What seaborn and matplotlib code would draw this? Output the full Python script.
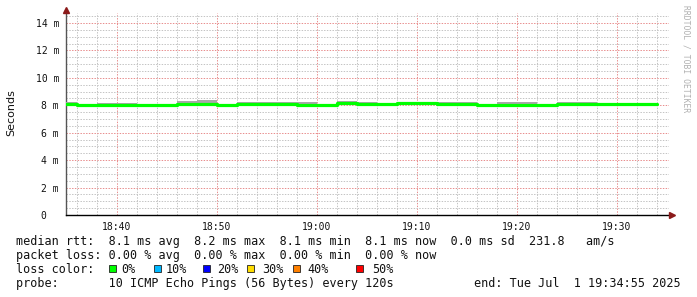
import numpy as np
import pandas as pd
import matplotlib
matplotlib.use("Agg")
import matplotlib.pyplot as plt
import seaborn as sns
from matplotlib.ticker import FixedLocator
from matplotlib.lines import Line2D
from matplotlib.patches import Rectangle

# ---------------- data ----------------
# step start times in minutes after 18:00 (first segment is partial, last ends at 94)
step_start = [34.917, 36, 38, 40, 42, 44, 46, 48, 50, 52, 54, 56, 58, 60, 62,
              64, 66, 68, 70, 72, 74, 76, 78, 80, 82, 84, 86, 88, 90, 92]
step_end = 94
median_ms = [8.08, 8.02, 8.04, 8.04, 8.02, 8.02, 8.08, 8.08, 8.04, 8.06,
             8.06, 8.06, 8.05, 8.03, 8.20, 8.08, 8.06, 8.17, 8.17, 8.07,
             8.07, 8.02, 8.03, 8.03, 8.04, 8.08, 8.08, 8.09, 8.07, 8.07]
smoke_hi_ms = [8.23, 8.04, 8.17, 8.17, 8.04, 8.04, 8.30, 8.37, 8.06, 8.23,
               8.23, 8.23, 8.23, 8.05, 8.28, 8.23, 8.08, 8.20, 8.20, 8.23,
               8.23, 8.04, 8.23, 8.23, 8.06, 8.23, 8.23, 8.11, 8.09, 8.09]
smoke_lo_ms = [8.02, 7.99, 8.00, 8.00, 7.99, 7.99, 8.03, 8.03, 8.00, 8.02,
               8.02, 8.02, 8.01, 7.99, 8.14, 8.03, 8.01, 8.12, 8.12, 8.02,
               8.02, 7.92, 7.95, 7.95, 8.00, 8.03, 8.03, 8.05, 8.03, 8.03]
xtick_pos = [40, 50, 60, 70, 80, 90]
xtick_labels = ["18:40", "18:50", "19:00", "19:10", "19:20", "19:30"]
ytick_pos = [0, 2, 4, 6, 8, 10, 12, 14]
ytick_labels = ["0  ", "2 m", "4 m", "6 m", "8 m", "10 m", "12 m", "14 m"]

legend_rows = [
    "median rtt:  8.1 ms avg  8.2 ms max  8.1 ms min  8.1 ms now  0.0 ms sd  231.8   am/s",
    "packet loss: 0.00 % avg  0.00 % max  0.00 % min  0.00 % now",
    "loss color:",
    "probe:       10 ICMP Echo Pings (56 Bytes) every 120s",
]
end_text = "end: Tue Jul  1 19:34:55 2025"
loss_labels = ["0%", "10%", "20%", "30%", "40%", "50%"]
loss_colors = ["#00ff00", "#00b8ff", "#0000ff", "#ffdd00", "#ff8000", "#ff0000"]

# ---------------- figure ----------------
sns.set_theme(style="white")
plt.rcParams["font.family"] = ["DejaVu Sans Mono", "DejaVu Sans"]

W, H = 697, 297
fig = plt.figure(figsize=(W / 100, H / 100), dpi=100)
fig.patch.set_facecolor("white")
L, R, T, B = 66, 669, 13, 215
ax = fig.add_axes([L / W, 1 - B / H, (R - L) / W, (B - T) / H])
ax.set_facecolor("white")

x_left = 34.9
x_right = x_left + (R - L) / 10.0
y_top = (B - T) / 13.714
ax.set_xlim(x_left, x_right)
ax.set_ylim(0, y_top)

t_ext = step_start + [step_end]
med_ext = median_ms + [median_ms[-1]]
hi_ext = smoke_hi_ms + [smoke_hi_ms[-1]]
lo_ext = smoke_lo_ms + [smoke_lo_ms[-1]]
df = pd.DataFrame({"t": t_ext, "median": med_ext, "hi": hi_ext, "lo": lo_ext})

ax.fill_between(df["t"], df["lo"], df["hi"], step="post", color="#a8a8a8",
                lw=0, zorder=3)
sns.lineplot(data=df, x="t", y="median", drawstyle="steps-post",
             color="#00ff00", lw=2.3, ax=ax, zorder=4)

# grid: minor every 2 min / 0.5 ms, excluding major positions
x_minor = [m for m in range(36, 96, 2) if m % 10 != 0]
y_minor = [v / 2 for v in range(1, 30) if v % 4 != 0]
ax.xaxis.set_major_locator(FixedLocator(xtick_pos))
ax.xaxis.set_minor_locator(FixedLocator(x_minor))
ax.yaxis.set_major_locator(FixedLocator(ytick_pos))
ax.yaxis.set_minor_locator(FixedLocator(y_minor))
ax.set_xticklabels(xtick_labels)
ax.set_yticklabels(ytick_labels)
ax.grid(which="minor", color="#c4c4c4", linestyle=(0, (1.4, 1.4)), lw=0.72)
ax.grid(which="major", color="#e88e8e", linestyle=(0, (1.4, 1.4)), lw=0.72)
ax.set_axisbelow(True)

ax.tick_params(axis="both", which="major", labelsize=7, length=2, width=0.7,
               color="#666666", pad=3, labelcolor="#111111")
ax.tick_params(axis="both", which="minor", length=0)
ax.set_xlabel("")
ax.set_ylabel("")

for s in ["top", "right"]:
    ax.spines[s].set_visible(False)
ax.spines["left"].set_color("#555555")
ax.spines["left"].set_linewidth(1.0)
ax.spines["bottom"].set_color("#000000")
ax.spines["bottom"].set_linewidth(1.0)

# axis extension and arrows
fig.add_artist(Line2D([R / W, 672 / W], [1 - B / H, 1 - B / H], color="black",
                      lw=1.0, transform=fig.transFigure))
fig.add_artist(Line2D([672 / W], [1 - B / H], marker=">", ms=4, color="#8b1a1a",
                      mec="#8b1a1a", transform=fig.transFigure))
fig.add_artist(Line2D([L / W], [1 - 10 / H], marker="^", ms=4, color="#8b1a1a",
                      mec="#8b1a1a", transform=fig.transFigure))

# y label and watermark
fig.text(11 / W, 1 - 113 / H, "Seconds", rotation=90, ha="center", va="center",
         fontsize=8, family=["DejaVu Sans"], color="#111111")
fig.text(686 / W, 1 - 5 / H, "RRDTOOL / TOBI OETIKER", rotation=270,
         ha="center", va="top", fontsize=5.8, color="#b0b0b0")

# legend rows
baselines = [245, 259, 273, 287]
for txt, yb in zip(legend_rows, baselines):
    fig.text(16 / W, 1 - yb / H, txt, ha="left", va="baseline", fontsize=8.5,
             color="#111111")
fig.text(681 / W, 1 - 287 / H, end_text, ha="right", va="baseline",
         fontsize=8.5, color="#111111")

sq_x = [109, 154, 203, 247, 293, 356]
lab_x = [121, 166, 217, 262, 307, 372]
for c, lab, sx, lx in zip(loss_colors, loss_labels, sq_x, lab_x):
    fig.add_artist(Rectangle((sx / W, 1 - 272 / H), 7 / W, 7 / H,
                             facecolor=c, edgecolor="#222222", lw=0.6,
                             transform=fig.transFigure))
    fig.text(lx / W, 1 - 273 / H, lab, ha="left", va="baseline", fontsize=8.5,
             color="#111111")

fig.savefig("out.png", dpi=100, facecolor="white")
